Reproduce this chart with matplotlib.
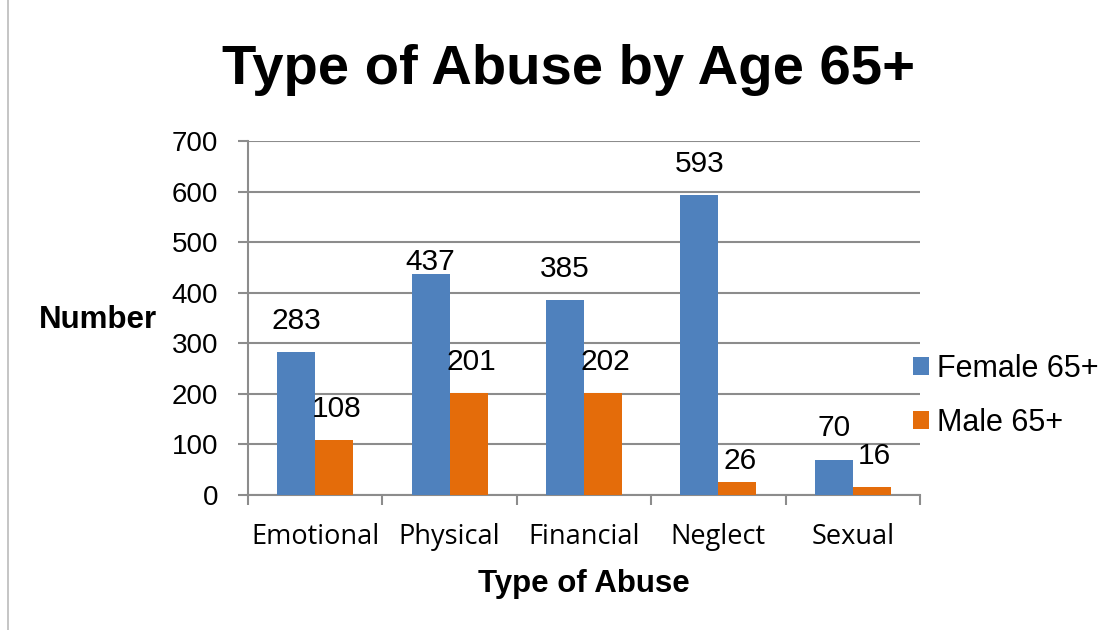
import matplotlib.pyplot as plt
import numpy as np

# chart data
categories = ['Emotional', 'Physical', 'Financial', 'Neglect', 'Sexual']
female = [283, 437, 385, 593, 70]
male = [108, 201, 202, 26, 16]
series_names = ['Female 65+', 'Male 65+']

blue = '#4F81BD'
orange = '#E46C0A'
grey = '#8C8C8C'

fig = plt.figure(figsize=(11.18, 6.3), dpi=100)
ax = fig.add_axes([248 / 1118, 1 - 495 / 630, 672 / 1118, 354 / 630])

x = np.arange(len(categories))
w = 0.283
b1 = ax.bar(x - w / 2, female, w, color=blue, label=series_names[0], zorder=3)
b2 = ax.bar(x + w / 2, male, w, color=orange, label=series_names[1], zorder=3)

# value labels (Excel nudged a couple of them)
off_f = {1: 8.5}
off_m = {3: 15}
for i, r in enumerate(b1):
    ax.annotate(str(female[i]), (r.get_x() + r.get_width() / 2, r.get_height()),
                xytext=(0, off_f.get(i, 22.5)), textcoords='offset points',
                ha='center', va='center', fontsize=21.5, family='Liberation Sans')
for i, r in enumerate(b2):
    ax.annotate(str(male[i]), (r.get_x() + r.get_width() / 2, r.get_height()),
                xytext=(2, off_m.get(i, 22.5)), textcoords='offset points',
                ha='center', va='center', fontsize=21.5, family='Liberation Sans')

ax.set_xlim(-0.5, len(categories) - 0.5)
ax.set_ylim(0, 700)
ax.set_yticks(range(0, 701, 100))
ax.yaxis.grid(True, color=grey, linewidth=1.5, zorder=0)
ax.set_axisbelow(True)

# ticks at boundaries, labels at centres
ax.set_xticks(np.arange(-0.5, len(categories), 1))
ax.set_xticklabels([])
ax.set_xticks(x, minor=True)
ax.set_xticklabels(categories, minor=True, fontsize=19.5, family='Open Sans')
ax.tick_params(axis='x', which='major', length=7.2, width=1.5, color=grey)
ax.tick_params(axis='x', which='minor', length=0, pad=20)
ax.tick_params(axis='y', length=7.2, width=1.5, color=grey, pad=14.4, labelsize=20)
for t in ax.get_yticklabels():
    t.set_family('Liberation Sans')

for s in ['top', 'right']:
    ax.spines[s].set_visible(False)
for s in ['left', 'bottom']:
    ax.spines[s].set_color(grey)
    ax.spines[s].set_linewidth(1.5)

ax.set_xlabel('Type of Abuse', fontsize=22.5, fontweight='bold', family='Liberation Sans', labelpad=13)
fig.text(98 / 1118, 1 - 320 / 630, 'Number', ha='center', va='center',
         fontsize=22.5, fontweight='bold', family='Liberation Sans')

fig.suptitle('Type of Abuse by Age 65+', x=568 / 1118, y=1 - 70 / 630, va='center',
             fontsize=40.5, fontweight='bold', family='Liberation Sans')

leg = fig.legend(loc='center left', bbox_to_anchor=(913 / 1118, 1 - 396 / 630),
                 frameon=False, prop={'family': 'Liberation Sans', 'size': 22},
                 handlelength=0.52, handleheight=0.52, handletextpad=0.25,
                 labelspacing=0.8, borderpad=0, borderaxespad=0)

# thin frame line on the left edge
fig.add_artist(plt.Line2D([8 / 1118, 8 / 1118], [0, 1], color='#BBBBBB', linewidth=1.2,
                          transform=fig.transFigure))

fig.savefig('out.png', dpi=100)
